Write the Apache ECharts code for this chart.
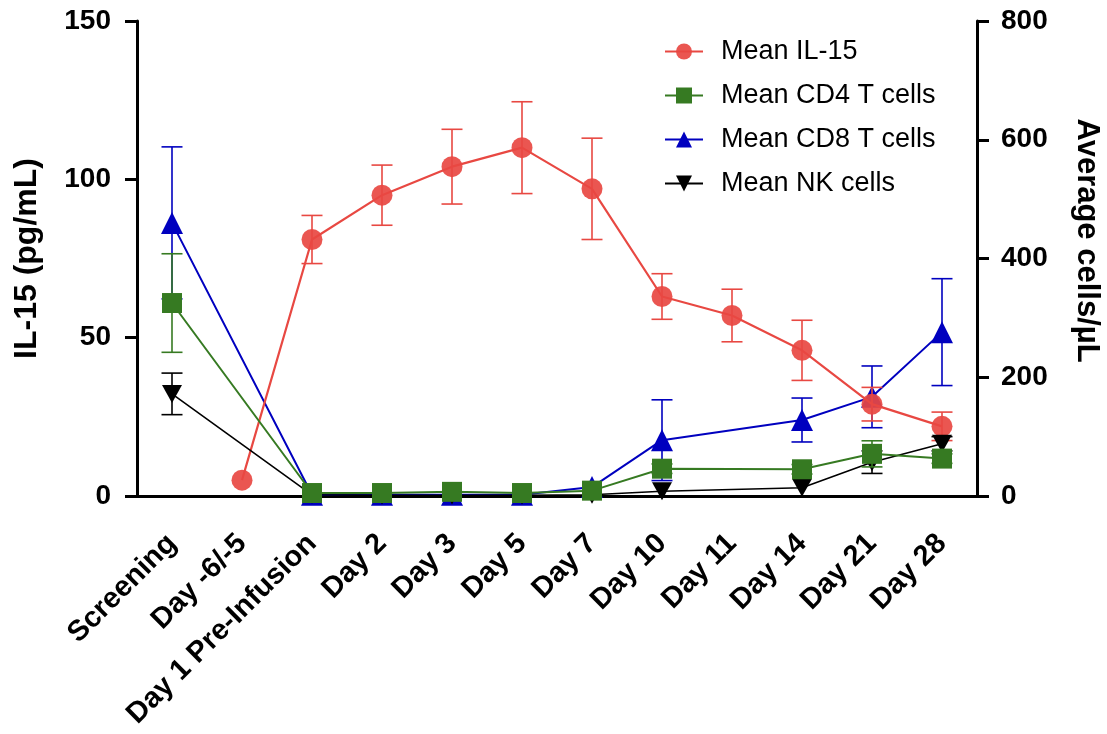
<!DOCTYPE html>
<html>
<head>
<meta charset="utf-8">
<script src="https://cdn.jsdelivr.net/npm/echarts@6/dist/echarts.min.js"></script>
<style>
  html, body { margin: 0; padding: 0; background: #fff; }
  #chart { width: 1107px; height: 734px; }
</style>
</head>
<body>
<div id="chart"></div>
<script>
// Sampling time points
const categories = ['Screening', 'Day -6/-5', 'Day 1 Pre-Infusion', 'Day 2', 'Day 3', 'Day 5',
  'Day 7', 'Day 10', 'Day 11', 'Day 14', 'Day 21', 'Day 28'];

// Mean IL-15 (pg/mL), left axis, with error half-widths
const il15    = [null, 5, 81, 95, 104, 110, 97, 63, 57, 46, 29, 22];
const il15Err = [null, null, 7.6, 9.5, 11.8, 14.5, 16, 7.2, 8.3, 9.5, 5.3, 4.5];

// Mean cell counts (cells/µL), right axis, with error half-widths
const cd4    = [325, null, 5, 5, 7, 5, 9, 46, null, 45, 71, 63];
const cd4Err = [83, null, 0, 0, 0, 0, 0, 8, null, 8, 22, 8];
const cd8    = [460, null, 2, 2, 2, 2, 15, 94, null, 128, 167, 276];
const cd8Err = [128, null, 0, 0, 0, 0, 0, 68, null, 37, 52, 90];
const nk     = [172, null, 2, 1, 1, 1, 2, 8, null, 14, 57, 88];
const nkErr  = [35, null, 0, 0, 0, 0, 0, 0, null, 0, 19, 12];

// Axis ranges
const leftAxis  = { min: 0, max: 150, interval: 50 };
const rightAxis = { min: 0, max: 800, interval: 200 };

const COLORS = { il15: '#E84842', cd4: '#367A22', cd8: '#0000BF', nk: '#000000' };
const FONT = '"Liberation Sans", Arial, sans-serif';

function errData(vals, errs) {
  const out = [];
  vals.forEach((v, i) => {
    if (v != null && errs[i] != null && errs[i] > 0) out.push([i, v, errs[i]]);
  });
  return out;
}

// Vertical mean ± error bars with horizontal caps
function errorSeries(name, vals, errs, color, yAxisIndex, z) {
  return {
    type: 'custom',
    name: name,
    yAxisIndex: yAxisIndex,
    z: z,
    silent: true,
    data: errData(vals, errs),
    encode: { x: 0, y: 1 },
    renderItem: function (params, api) {
      const x = api.value(0), v = api.value(1), e = api.value(2);
      const hi = api.coord([x, v + e]);
      const lo = api.coord([x, v - e]);
      const half = 10.5;
      const style = { stroke: color, lineWidth: 1.6, fill: null };
      return {
        type: 'group',
        children: [
          { type: 'line', shape: { x1: hi[0], y1: hi[1], x2: lo[0], y2: lo[1] }, style: style },
          { type: 'line', shape: { x1: hi[0] - half, y1: hi[1], x2: hi[0] + half, y2: hi[1] }, style: style },
          { type: 'line', shape: { x1: lo[0] - half, y1: lo[1], x2: lo[0] + half, y2: lo[1] }, style: style }
        ]
      };
    }
  };
}

function lineSeries(name, vals, color, symbol, size, yAxisIndex, z, width, opacity) {
  return {
    type: 'line',
    name: name,
    yAxisIndex: yAxisIndex,
    z: z,
    data: vals,
    connectNulls: true,
    symbol: symbol,
    symbolSize: size,
    showAllSymbol: true,
    lineStyle: { color: color, width: width },
    itemStyle: { color: color, opacity: opacity },
    emphasis: { disabled: true },
    animation: false
  };
}

const chart = echarts.init(document.getElementById('chart'), null, { renderer: 'canvas' });

const tri = 'triangle';
const invTri = 'path://M0,0 L10,0 L5,9 Z';

chart.setOption({
  animation: false,
  backgroundColor: '#fff',
  grid: { left: 137, right: 130, top: 21, bottom: 238, containLabel: false, outerBoundsMode: 'none' },
  legend: {
    data: ['Mean IL-15', 'Mean CD4 T cells', 'Mean CD8 T cells', 'Mean NK cells'],
    orient: 'vertical',
    left: 659,
    top: 33,
    itemWidth: 38,
    itemHeight: 20,
    itemGap: 17,
    textStyle: { fontFamily: FONT, fontSize: 27, color: '#000', padding: [0, 0, 0, 13] },
    selectedMode: false
  },
  xAxis: {
    type: 'category',
    data: categories,
    boundaryGap: true,
    axisLine: { lineStyle: { color: '#000', width: 3 } },
    axisTick: { alignWithLabel: true, length: 15, lineStyle: { color: '#000', width: 3 } },
    axisLabel: {
      interval: 0, rotate: 45, margin: 43,
      fontFamily: FONT, fontSize: 29, fontWeight: 'bold', color: '#000'
    },
    splitLine: { show: false }
  },
  yAxis: [
    {
      type: 'value', position: 'left',
      min: leftAxis.min, max: leftAxis.max, interval: leftAxis.interval,
      name: 'IL-15 (pg/mL)', nameLocation: 'middle', nameGap: 94, nameRotate: 90,
      nameTextStyle: { fontFamily: FONT, fontSize: 32, fontWeight: 'bold', color: '#000' },
      axisLine: { show: true, lineStyle: { color: '#000', width: 3 } },
      axisTick: { show: true, length: 12, lineStyle: { color: '#000', width: 3 } },
      axisLabel: { margin: 26, fontFamily: FONT, fontSize: 28, fontWeight: 'bold', color: '#000' },
      splitLine: { show: false }
    },
    {
      type: 'value', position: 'right',
      min: rightAxis.min, max: rightAxis.max, interval: rightAxis.interval,
      name: 'Average cells/µL', nameLocation: 'middle', nameGap: 94, nameRotate: -90,
      nameTextStyle: {
        fontFamily: FONT, fontSize: 31, fontWeight: 'bold', color: '#000',
        padding: [0, 36, 0, 0]
      },
      axisLine: { show: true, lineStyle: { color: '#000', width: 3 } },
      axisTick: { show: true, length: 12, lineStyle: { color: '#000', width: 3 } },
      axisLabel: { margin: 24, fontFamily: FONT, fontSize: 28, fontWeight: 'bold', color: '#000' },
      splitLine: { show: false }
    }
  ],
  series: [
    errorSeries('cd8-err', cd8, cd8Err, COLORS.cd8, 1, 2),
    lineSeries('Mean CD8 T cells', cd8, COLORS.cd8, tri, 22, 1, 3, 2, 1),
    errorSeries('il15-err', il15, il15Err, COLORS.il15, 0, 4),
    lineSeries('Mean IL-15', il15, COLORS.il15, 'circle', 21, 0, 5, 2.2, 0.92),
    errorSeries('nk-err', nk, nkErr, COLORS.nk, 1, 6),
    lineSeries('Mean NK cells', nk, COLORS.nk, invTri, [20, 18], 1, 7, 1.6, 1),
    errorSeries('cd4-err', cd4, cd4Err, COLORS.cd4, 1, 8),
    lineSeries('Mean CD4 T cells', cd4, COLORS.cd4, 'rect', 20, 1, 9, 2, 1)
  ]
});
</script>
</body>
</html>
